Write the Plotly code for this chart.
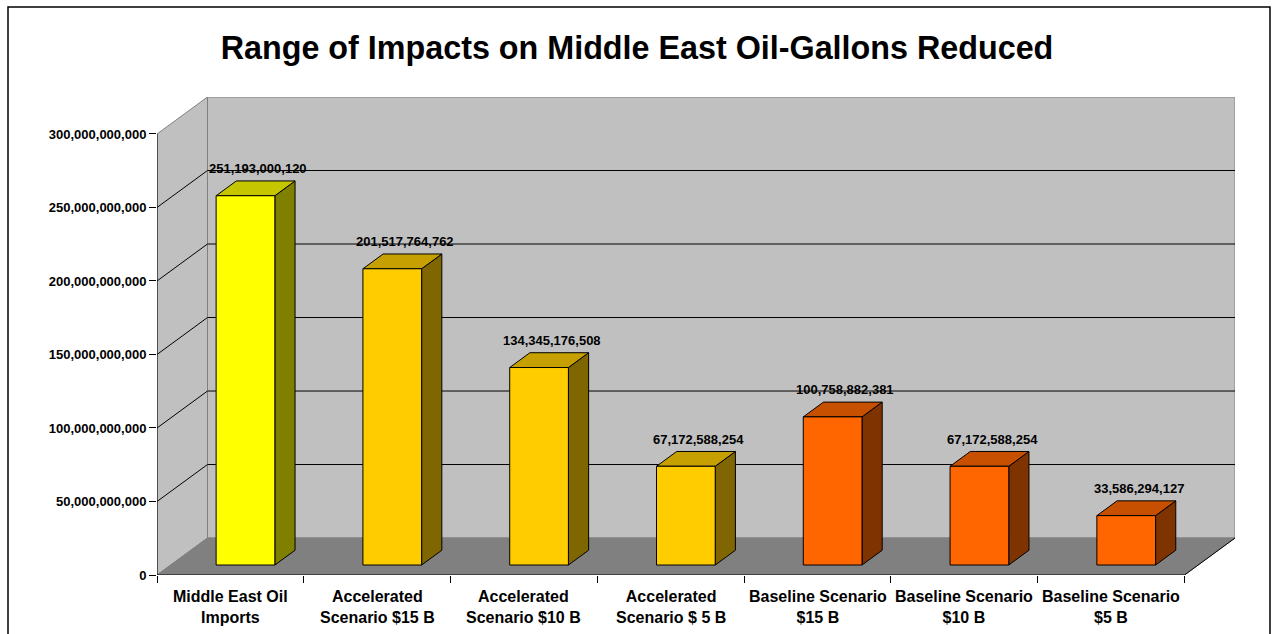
import plotly.graph_objects as go

# ---------------- data ----------------
categories = [
    "Middle East Oil<br>Imports",
    "Accelerated<br>Scenario $15 B",
    "Accelerated<br>Scenario $10 B",
    "Accelerated<br>Scenario $ 5 B",
    "Baseline Scenario<br>$15 B",
    "Baseline Scenario<br>$10 B",
    "Baseline Scenario<br>$5 B",
]
values = [251193000120, 201517764762, 134345176508, 67172588254,
          100758882381, 67172588254, 33586294127]
front_colors = ["#FFFF00", "#FFCC00", "#FFCC00", "#FFCC00",
                "#FF6600", "#FF6600", "#FF6600"]
tick_values = [0, 50e9, 100e9, 150e9, 200e9, 250e9, 300e9]
tick_labels = ["0", "50,000,000,000", "100,000,000,000", "150,000,000,000",
               "200,000,000,000", "250,000,000,000", "300,000,000,000"]
title_text = "Range of Impacts on Middle East Oil-Gallons Reduced"

# ---------------- pseudo-3D geometry ----------------
N = len(categories)
YMAX = tick_values[-1]
DZX = 0.344          # depth offset in category units
DZY = 25.15e9        # depth offset in value units
ZF, ZB = 0.27, 0.67  # bar front/back depth fractions
BX0, BX1 = 0.31, 0.71  # bar extent inside category

FONT = "Liberation Sans, Arial, sans-serif"


def shade(hexc, f):
    h = hexc.lstrip("#")
    r, g, b = (int(h[i:i + 2], 16) for i in (0, 2, 4))
    return "#%02X%02X%02X" % (int(r * f), int(g * f), int(b * f))


fig = go.Figure()


def poly(xs, ys, fill, line="#000000", lw=1):
    fig.add_trace(go.Scatter(
        x=xs + [xs[0]], y=ys + [ys[0]], mode="lines", fill="toself",
        fillcolor=fill, line=dict(color=line, width=lw),
        hoverinfo="skip", showlegend=False))


def seg(xs, ys, color="#000000", lw=1):
    fig.add_trace(go.Scatter(
        x=xs, y=ys, mode="lines", line=dict(color=color, width=lw),
        hoverinfo="skip", showlegend=False))


# back wall
poly([DZX, N + DZX, N + DZX, DZX], [DZY, DZY, YMAX + DZY, YMAX + DZY],
     "#C0C0C0", "#808080")
# side wall
poly([0, DZX, DZX, 0], [0, DZY, YMAX + DZY, YMAX], "#C0C0C0", "#808080")
# floor
poly([0, N, N + DZX, DZX], [0, 0, DZY, DZY], "#808080", "#808080")

# gridlines
for v in tick_values[1:-1]:
    seg([0, DZX, N + DZX], [v, v + DZY, v + DZY])

# axis lines
seg([0, 0], [0, YMAX])
seg([0, N, N + DZX], [0, 0, DZY])

# bars
for i, (v, c) in enumerate(zip(values, front_colors)):
    x0f, x1f = i + BX0 + ZF * DZX, i + BX1 + ZF * DZX
    x0b, x1b = i + BX0 + ZB * DZX, i + BX1 + ZB * DZX
    yf, yb = ZF * DZY, ZB * DZY
    # side
    poly([x1f, x1b, x1b, x1f], [yf, yb, v + yb, v + yf], shade(c, 0.5))
    # top
    poly([x0f, x1f, x1b, x0b], [v + yf, v + yf, v + yb, v + yb], shade(c, 0.78))
    # front
    poly([x0f, x1f, x1f, x0f], [yf, yf, v + yf, v + yf], c)

annotations = []
for i, v in enumerate(values):
    annotations.append(dict(
        x=i + 0.5 + 0.19, y=v, xref="x", yref="y", text=f"{v:,}",
        showarrow=False, yanchor="middle", xanchor="center", yshift=37,
        font=dict(family=FONT, size=13, color="#000000", weight="bold")))
for i, cat in enumerate(categories):
    annotations.append(dict(
        x=i + 0.5, y=0, xref="x", yref="y", text=cat,
        showarrow=False, yanchor="top", xanchor="center", yshift=-11,
        font=dict(family=FONT, size=16, color="#000000", weight="bold")))

fig.update_layout(
    width=1274, height=634,
    margin=dict(l=157, r=39, t=97, b=59),
    paper_bgcolor="#FFFFFF", plot_bgcolor="#FFFFFF",
    title=dict(text=title_text, x=0.5, xref="container", xanchor="center",
               y=1 - 48 / 634, yref="container", yanchor="middle",
               font=dict(family=FONT, size=32.3, color="#000000", weight="bold")),
    xaxis=dict(range=[0, N + DZX], tickvals=list(range(N + 1)),
               ticktext=[""] * (N + 1), ticks="outside", ticklen=7,
               tickcolor="#000000", showgrid=False, zeroline=False,
               showline=False, fixedrange=True),
    yaxis=dict(range=[0, YMAX + DZY], tickvals=tick_values,
               ticktext=tick_labels, ticks="outside", ticklen=7,
               tickcolor="#000000", showgrid=False, zeroline=False,
               showline=False, fixedrange=True,
               tickfont=dict(family=FONT, size=13, color="#000000",
                             weight="bold")),
    annotations=annotations,
    shapes=[dict(type="rect", xref="paper", yref="paper",
                 x0=(8 - 157) / 1078, x1=(1270 - 157) / 1078,
                 y0=(575 - 700) / 478, y1=(575 - 7) / 478,
                 line=dict(color="#000000", width=1.5), layer="below")],
)

fig.write_html("out.html")
